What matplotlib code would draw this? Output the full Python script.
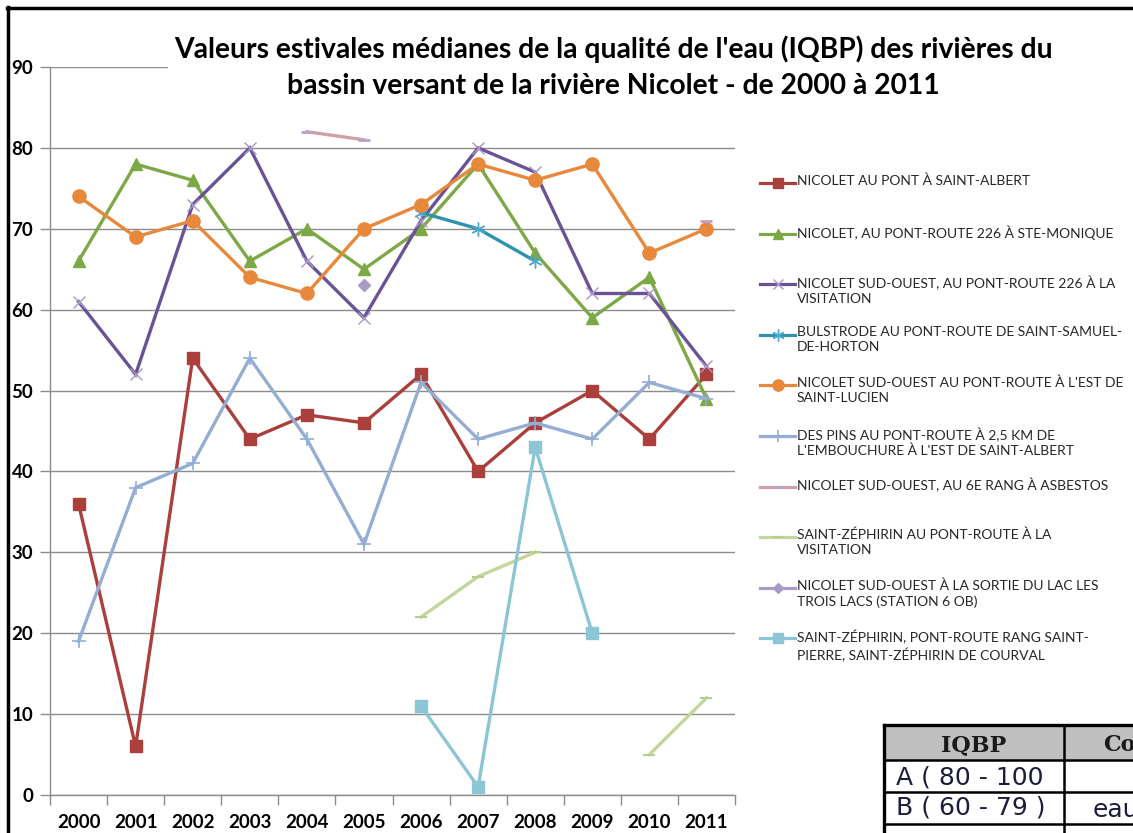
import numpy as np
import matplotlib
matplotlib.use("Agg")
import matplotlib.pyplot as plt
from matplotlib.lines import Line2D
from matplotlib.patches import Rectangle

nan = np.nan
years = ["2000", "2001", "2002", "2003", "2004", "2005", "2006", "2007", "2008", "2009", "2010", "2011"]

s_st_albert = [36, 6, 54, 44, 47, 46, 52, 40, 46, 50, 44, 52]
s_ste_monique = [66, 78, 76, 66, 70, 65, 70, 78, 67, 59, 64, 49]
s_visitation = [61, 52, 73, 80, 66, 59, 71, 80, 77, 62, 62, 53]
s_bulstrode = [nan, nan, nan, nan, nan, nan, 72, 70, 66, nan, nan, nan]
s_st_lucien = [74, 69, 71, 64, 62, 70, 73, 78, 76, 78, 67, 70]
s_des_pins = [19, 38, 41, 54, 44, 31, 51, 44, 46, 44, 51, 49]
s_asbestos = [nan, nan, nan, nan, 82, 81, nan, nan, nan, nan, nan, 71]
s_zeph_visit = [nan, nan, nan, nan, nan, nan, 22, 27, 30, nan, 5, 12]
s_trois_lacs = [nan, nan, nan, nan, nan, 63, nan, nan, nan, nan, nan, nan]
s_zeph_courval = [nan, nan, nan, nan, nan, nan, 11, 1, 43, 20, nan, nan]

labels = [
    "NICOLET AU PONT À SAINT-ALBERT",
    "NICOLET, AU PONT-ROUTE 226 À STE-MONIQUE",
    "NICOLET SUD-OUEST, AU PONT-ROUTE 226 À LA\nVISITATION",
    "BULSTRODE AU PONT-ROUTE DE SAINT-SAMUEL-\nDE-HORTON",
    "NICOLET SUD-OUEST AU PONT-ROUTE À L'EST DE\nSAINT-LUCIEN",
    "DES PINS AU PONT-ROUTE À 2,5 KM DE\nL'EMBOUCHURE À L'EST DE SAINT-ALBERT",
    "NICOLET SUD-OUEST, AU 6E RANG À ASBESTOS",
    "SAINT-ZÉPHIRIN AU PONT-ROUTE À LA\nVISITATION",
    "NICOLET SUD-OUEST À LA SORTIE DU LAC LES\nTROIS LACS (STATION 6 OB)",
    "SAINT-ZÉPHIRIN, PONT-ROUTE RANG SAINT-\nPIERRE, SAINT-ZÉPHIRIN DE COURVAL",
]
series = [s_st_albert, s_ste_monique, s_visitation, s_bulstrode, s_st_lucien,
          s_des_pins, s_asbestos, s_zeph_visit, s_trois_lacs, s_zeph_courval]

table_header = ["IQBP", "Co"]
table_rows = [["A ( 80 - 100", ""], ["B ( 60 - 79 )", "eau"]]

styles = [
    dict(color="#AA3F3B", marker="s", ms=8.5, mfc="#AA3F3B", mec="#AA3F3B", mew=1),
    dict(color="#7DA846", marker="^", ms=9, mfc="#7DA846", mec="#7DA846", mew=1),
    dict(color="#6A5296", marker="x", ms=9, mfc="none", mec="#A898C8", mew=1.0),
    dict(color="#2E93AE", marker=(6, 2, 0), ms=10, mfc="none", mec="#4FA9C4", mew=1.0),
    dict(color="#E8883A", marker="o", ms=9.5, mfc="#E8883A", mec="#E8883A", mew=1),
    dict(color="#93ADD3", marker="+", ms=10, mfc="none", mec="#93ADD3", mew=1.2),
    dict(color="#CFA0A8", marker="_", ms=8, mfc="none", mec="#B9A0C8", mew=2),
    dict(color="#C3D69B", marker="_", ms=9, mfc="none", mec="#B8CC90", mew=1.5),
    dict(color="#A99BC6", marker="D", ms=6.5, mfc="#A99BC6", mec="#A99BC6", mew=1),
    dict(color="#8CC5D6", marker="s", ms=8.5, mfc="#8CC5D6", mec="#8CC5D6", mew=1),
]

W, H = 1133, 833
fig = plt.figure(figsize=(W / 100, H / 100), dpi=100)
fig.patch.set_facecolor("white")

def fx(x):
    return x / W

def fy(y):
    return 1 - y / H

ax = fig.add_axes([fx(50), fy(795), (735 - 50) / W, (795 - 67) / H])
x = np.arange(len(years))
for s, st in zip(series, styles):
    ax.plot(x, np.array(s, dtype=float), color=st["color"], lw=2.4,
            marker=st["marker"], ms=st["ms"], mfc=st["mfc"], mec=st["mec"],
            mew=st["mew"], solid_joinstyle="miter", clip_on=False, zorder=3)

ax.set_xlim(-0.5, 11.5)
ax.set_ylim(0, 90)
ax.set_yticks(np.arange(0, 91, 10))
ax.set_xticks(x)
ax.set_xticklabels(years)
ax.set_xticks(np.arange(-0.5, 12, 1), minor=True)
ax.tick_params(axis="x", which="major", length=0, pad=14)
ax.tick_params(axis="x", which="minor", length=7, color="#8C8C8C", width=1)
ax.tick_params(axis="y", length=7, color="#8C8C8C", width=1, pad=5)
for lab in ax.get_xticklabels() + ax.get_yticklabels():
    lab.set_fontfamily("Lato")
    lab.set_fontweight("bold")
    lab.set_fontsize(13.5)
ax.yaxis.grid(True, color="#8C8C8C", lw=1)
ax.set_axisbelow(True)
for sp in ["top", "right"]:
    ax.spines[sp].set_visible(False)
for sp in ["left", "bottom"]:
    ax.spines[sp].set_color("#8C8C8C")
    ax.spines[sp].set_linewidth(1)

# title box (white) covering the top gridline
fig.patches.append(Rectangle((fx(168), fy(103)), (1062 - 168) / W, (103 - 30) / H,
                             transform=fig.transFigure, facecolor="white",
                             edgecolor="none", zorder=5))
fig.text(fx(613), fy(67),
         "Valeurs estivales médianes de la qualité de l'eau (IQBP) des rivières du\n"
         "bassin versant de la rivière Nicolet - de 2000 à 2011",
         ha="center", va="center", fontsize=20.3, fontweight="bold",
         family="Lato", linespacing=1.5, zorder=6)

# manual legend
leg_y0 = 183
leg_dy = 50.6
for i, (lab, st) in enumerate(zip(labels, styles)):
    yy = leg_y0 + i * leg_dy
    fig.add_artist(Line2D([fx(760), fx(795)], [fy(yy), fy(yy)], color=st["color"], lw=2.3,
                          transform=fig.transFigure))
    fig.add_artist(Line2D([fx(777.5)], [fy(yy)], marker=st["marker"], ms=st["ms"] * 0.85,
                          mfc=st["mfc"], mec=st["mec"] if st["mfc"] == "none" else st["mfc"],
                          mew=st["mew"], transform=fig.transFigure))
    fig.text(fx(797), fy(yy - 8.5), lab, ha="left", va="top", fontsize=10,
             family="Lato", color="#262626", linespacing=1.3)

# IQBP table (partially visible at bottom right)
tl, tr = 884, 1140
colx = 1064
rows = [725, 760, 792, 824, 860]
fig.patches.append(Rectangle((fx(tl), fy(rows[1])), (tr - tl) / W, (rows[1] - rows[0]) / H,
                             transform=fig.transFigure, facecolor="#C0C0C0", edgecolor="none"))
for yy in rows[:4]:
    fig.add_artist(Line2D([fx(tl), fx(tr)], [fy(yy), fy(yy)], color="black",
                          lw=2.4 if yy == rows[0] else 1.8, transform=fig.transFigure))
for xx in [tl, colx]:
    fig.add_artist(Line2D([fx(xx), fx(xx)], [fy(rows[0]), fy(850)], color="black",
                          lw=2.4 if xx == tl else 1.8, transform=fig.transFigure))
fig.text(fx(974), fy(745), table_header[0], ha="center", va="center", fontsize=16,
         fontweight="bold", family="DejaVu Serif", color="#1a1a1a")
fig.text(fx(1103), fy(745), table_header[1], ha="left", va="center", fontsize=16,
         fontweight="bold", family="DejaVu Serif", color="#1a1a1a")
for r, (row, yy) in enumerate(zip(table_rows, [777, 808])):
    fig.text(fx(896), fy(yy), row[0], ha="left", va="center", fontsize=18,
             family="DejaVu Sans", color="#1c1c3c")
    if row[1]:
        fig.text(fx(1093), fy(yy + 2), row[1], ha="left", va="center", fontsize=18,
                 family="DejaVu Sans", color="#1c1c3c")

# outer black border (left and top)
fig.add_artist(Line2D([fx(8), fx(8)], [fy(7), fy(840)], color="black", lw=2.5,
                      transform=fig.transFigure))
fig.add_artist(Line2D([fx(7), fx(1140)], [fy(8), fy(8)], color="black", lw=2.5,
                      transform=fig.transFigure))

fig.savefig("out.png", dpi=100)
